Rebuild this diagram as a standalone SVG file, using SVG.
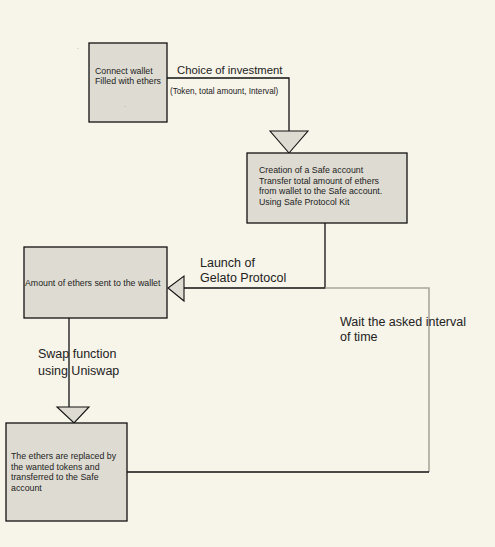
<svg xmlns="http://www.w3.org/2000/svg" width="495" height="547" viewBox="0 0 495 547">
<style>
text{font-family:"Liberation Sans",Arial,sans-serif;fill:#222}
.box{fill:#DEDCD2;stroke:#111;stroke-width:1.3}
.ln{fill:none;stroke:#111;stroke-width:1.3}
.gl{fill:none;stroke:#A9A79A;stroke-width:1.6}
.tri{fill:#DEDCD2;stroke:#111;stroke-width:1.1}
.s{font-size:8.8px}
.xs{font-size:8.8px}
.l{font-size:12.5px}
.dot{font-size:7px;fill:#999}
</style>
<rect width="495" height="547" fill="#F7F4E9"/>
<text class="dot" x="77" y="49">.</text>
<g id="connectors">
<polyline class="ln" points="167,78 289,78 289,131"/>
<polygon class="tri" points="270,131 308,131 289,153"/>
<polyline class="ln" points="325,223 325,288 184,288"/>
<polygon class="tri" points="184,276 184,301 168,288"/>
<polyline class="gl" points="325,288 429,288 429,472"/>
<polyline class="ln" points="127,472 429,472"/>
<line class="ln" x1="69" y1="318" x2="69" y2="407"/>
<polygon class="tri" points="57,407 89,407 74,423"/>
<text x="177" y="74" font-size="11.3px">Choice of investment</text>
<text x="170" y="94" font-size="8.2px">(Token, total amount, Interval)</text>
<text class="l" x="200" y="267">Launch of</text>
<text class="l" x="200" y="282">Gelato Protocol</text>
<text class="l" x="340" y="326">Wait the asked interval</text>
<text class="l" x="340" y="341">of time</text>
<text class="l" x="38" y="358">Swap function</text>
<text class="l" x="38" y="375">using Uniswap</text>
</g>
<g id="node1">
<rect class="box" x="89" y="43" width="78" height="79"/>
<text class="s" x="95" y="74">Connect wallet</text>
<text class="s" x="95" y="84">Filled with ethers</text>
<text class="dot" x="124" y="107">.</text>
</g>
<g id="node2">
<rect class="box" x="247" y="153" width="160" height="70"/>
<text class="s" x="259" y="173">Creation of a Safe account</text>
<text class="s" x="259" y="183.5">Transfer total amount of ethers</text>
<text class="s" x="259" y="194">from wallet to the Safe account.</text>
<text class="s" x="259" y="204.5">Using Safe Protocol Kit</text>
</g>
<g id="node3">
<rect class="box" x="24" y="247" width="143" height="71"/>
<text class="xs" x="25" y="286">Amount of ethers sent to the wallet</text>
</g>
<g id="node4">
<rect class="box" x="6" y="423" width="121" height="98"/>
<text class="xs" x="11" y="459">The ethers are replaced by</text>
<text class="xs" x="11" y="469.5">the wanted tokens and</text>
<text class="xs" x="11" y="480">transferred to the Safe</text>
<text class="xs" x="11" y="491">account</text>
</g>
</svg>
